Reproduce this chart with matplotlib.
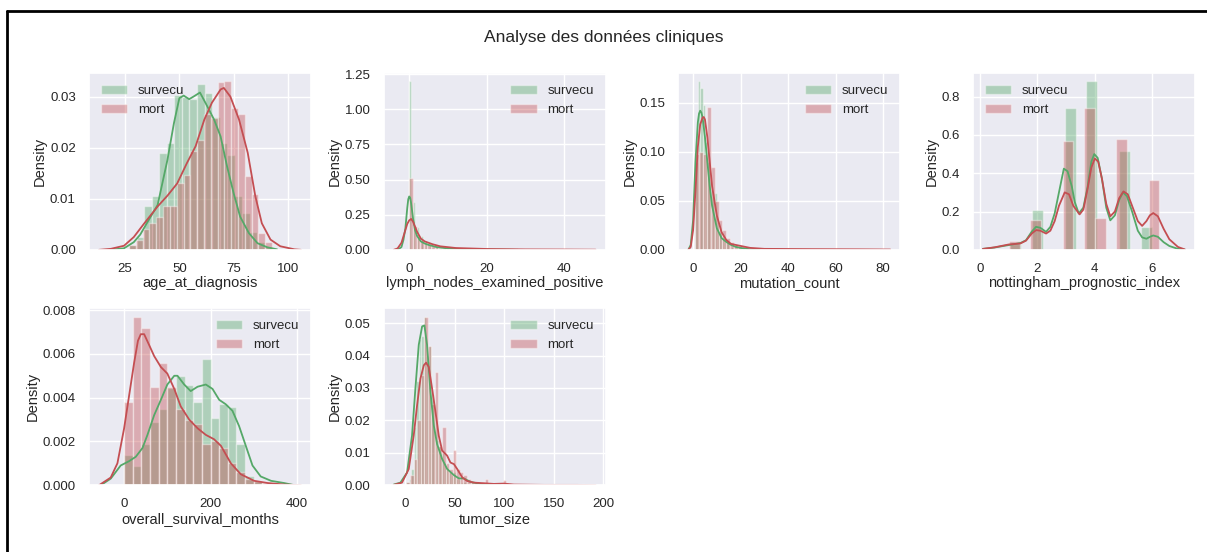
import numpy as np
import matplotlib
matplotlib.use("Agg")
import matplotlib.pyplot as plt
import seaborn as sns
from matplotlib.lines import Line2D

sns.set_theme(style="darkgrid")
plt.rcParams['font.family'] = ['Liberation Sans', 'DejaVu Sans']
plt.rcParams['xtick.labelsize'] = 9.5
plt.rcParams['ytick.labelsize'] = 9.5
plt.rcParams['axes.labelsize'] = 10.5
plt.rcParams['legend.fontsize'] = 9.5

GREEN = '#55A868'
RED = '#C44E52'

# ---- age_at_diagnosis ----
age_surv_bins = (26.9, 3.47)   # first edge, bin width
age_surv = [0.001, 0.0025, 0.0085, 0.0105, 0.019, 0.021, 0.0303, 0.030, 0.0295, 0.0324,
            0.0307, 0.026, 0.021, 0.0185, 0.0105, 0.0072, 0.0035, 0.0015, 0.0005]
age_mort_bins = (26.8, 3.14)
age_mort = [0.001, 0.002, 0.004, 0.0052, 0.0065, 0.0085, 0.0085, 0.013, 0.0147, 0.0193, 0.0216,
            0.0265, 0.0258, 0.0328, 0.033, 0.0278, 0.0265, 0.0144, 0.011, 0.0033, 0.0016]
age_surv_kde_x = [18, 24.5, 29, 32, 35, 40, 44.5, 47.5, 50, 52, 54.5, 56.5, 59.5, 62, 66, 69,
                  72, 75, 78, 82, 86, 90.5, 95]
age_surv_kde_y = [0, 0.0003, 0.0015, 0.003, 0.0052, 0.0088, 0.0176, 0.0248, 0.0297, 0.0302, 0.0295,
                  0.0300, 0.0308, 0.0288, 0.0255, 0.0222, 0.0163, 0.0111, 0.0065, 0.0033, 0.0013,
                  0.0005, 0.0001]
age_mort_kde_x = [13, 18.5, 24.5, 29, 33.5, 40, 44.5, 49, 53.5, 57.5, 61.5, 65, 69, 70.5, 73.5,
                  77.5, 81.5, 85, 88, 92, 96.5, 103, 106]
age_mort_kde_y = [0, 0.0002, 0.0008, 0.0025, 0.005, 0.0085, 0.0106, 0.013, 0.017, 0.0203, 0.0255,
                  0.0288, 0.0314, 0.0317, 0.030, 0.0255, 0.019, 0.0105, 0.0052, 0.002, 0.0007,
                  0.0001, 0]

# ---- lymph_nodes_examined_positive ----
lymph_surv_bins = (0, 0.5)
lymph_surv = [1.2, 0, 0.34, 0, 0.16, 0, 0.10, 0, 0.06, 0, 0.05, 0, 0.035, 0, 0.02, 0, 0.015, 0,
              0.01, 0, 0.008, 0, 0.005, 0, 0.004, 0, 0.003, 0, 0.002, 0, 0.002, 0, 0.001, 0, 0.001]
lymph_mort_bins = (0, 0.94)
lymph_mort = [0.51, 0.17, 0.10, 0.07, 0.05, 0.04, 0.03, 0.02, 0.015, 0.012, 0.01, 0.008, 0.006,
              0.005, 0.004, 0.003, 0.003, 0.002, 0.002, 0.002, 0.001, 0.001, 0.001, 0.001, 0.001,
              0.001, 0.0005, 0.0005, 0.0005, 0.0005, 0.0005, 0.0005, 0.0005, 0, 0, 0, 0, 0, 0, 0,
              0, 0, 0, 0, 0, 0, 0, 0, 0, 0.0005]
lymph_surv_kde_x = [-3, -2, -1.5, -1, -0.5, -0.25, 0, 0.25, 0.5, 1, 1.5, 2, 3, 4, 5, 7, 10, 15,
                    20, 25, 28]
lymph_surv_kde_y = [0, 0.02, 0.07, 0.15, 0.3, 0.36, 0.38, 0.37, 0.33, 0.22, 0.14, 0.1, 0.06, 0.045,
                    0.035, 0.02, 0.01, 0.004, 0.002, 0.001, 0]
lymph_mort_kde_x = [-4, -3, -2, -1, -0.5, 0, 0.5, 1, 1.5, 2, 3, 4, 6, 8, 12, 20, 30, 40, 48]
lymph_mort_kde_y = [0, 0.01, 0.05, 0.14, 0.185, 0.21, 0.22, 0.2, 0.165, 0.13, 0.08, 0.06, 0.04,
                    0.025, 0.013, 0.006, 0.003, 0.002, 0.001]

# ---- mutation_count ----
mut_surv_bins = (1, 1.0)
mut_surv = [0.09, 0.172, 0.165, 0.148, 0.11, 0.09, 0.07, 0.055, 0.058, 0.028, 0.018, 0.012, 0.008,
            0.007, 0.005, 0.003, 0.002, 0.002, 0.001, 0.001, 0.001]
mut_mort_bins = (1, 1.62)
mut_mort = [0.098, 0.10, 0.098, 0.146, 0.085, 0.05, 0.03, 0.02, 0.012, 0.008, 0.005, 0.004, 0.004,
            0.003, 0.001, 0.001, 0.001, 0.0005, 0.0005, 0.0005, 0, 0, 0, 0, 0, 0, 0.0005, 0, 0, 0,
            0, 0, 0, 0, 0, 0, 0, 0, 0, 0, 0, 0, 0, 0, 0, 0, 0, 0, 0, 0.0005]
mut_surv_kde_x = [-2, -1, 0, 1, 2, 2.5, 3, 3.5, 4, 5, 6, 7, 8, 10, 12, 14, 16, 18, 20, 24, 28]
mut_surv_kde_y = [0, 0.005, 0.03, 0.09, 0.13, 0.139, 0.142, 0.14, 0.135, 0.115, 0.09, 0.065, 0.045,
                  0.022, 0.012, 0.008, 0.005, 0.003, 0.002, 0.0005, 0]
mut_mort_kde_x = [-2, -1, 0, 1, 2, 3, 4, 4.5, 5, 6, 7, 8, 10, 12, 14, 16, 20, 24, 30, 50, 70, 83]
mut_mort_kde_y = [0, 0.003, 0.02, 0.06, 0.105, 0.128, 0.135, 0.1355, 0.133, 0.115, 0.09, 0.065,
                  0.035, 0.018, 0.01, 0.006, 0.004, 0.002, 0.001, 0.0007, 0.0005, 0.0003]

# ---- nottingham_prognostic_index ----
npi_surv_bins = (1.05, 0.38)
npi_surv = [0.03, 0, 0.21, 0, 0, 0.74, 0, 0.88, 0, 0, 0.515, 0, 0.12]
npi_mort_bins = (1.0, 0.375)
npi_mort = [0.045, 0, 0.157, 0, 0, 0.57, 0, 0.74, 0.165, 0, 0.58, 0, 0, 0.367]
npi_surv_kde_x = [0.1, 0.5, 1.0, 1.4, 1.6, 1.8, 1.95, 2.1, 2.3, 2.45, 2.6, 2.75, 2.92, 3.05, 3.2,
                  3.3, 3.44, 3.6, 3.75, 3.88, 3.98, 4.1, 4.25, 4.4, 4.54, 4.7, 4.85, 4.98, 5.12,
                  5.3, 5.5, 5.65, 5.8, 5.95, 6.04, 6.2, 6.4, 6.6, 6.9, 7.14]
npi_surv_kde_y = [0.005, 0.012, 0.025, 0.035, 0.05, 0.095, 0.12, 0.115, 0.094, 0.12, 0.19, 0.3,
                  0.424, 0.41, 0.33, 0.25, 0.19, 0.22, 0.33, 0.46, 0.5, 0.48, 0.37, 0.22, 0.154,
                  0.18, 0.26, 0.30, 0.28, 0.2, 0.1, 0.065, 0.058, 0.07, 0.075, 0.068, 0.04, 0.02,
                  0.005, 0.001]
npi_mort_kde_x = [0.1, 0.5, 1.0, 1.4, 1.6, 1.8, 1.95, 2.1, 2.3, 2.45, 2.6, 2.75, 2.95, 3.1, 3.25,
                  3.47, 3.6, 3.75, 3.88, 4.0, 4.12, 4.25, 4.4, 4.54, 4.7, 4.85, 5.0, 5.15, 5.3,
                  5.5, 5.65, 5.8, 5.92, 6.04, 6.2, 6.4, 6.6, 6.9, 7.14]
npi_mort_kde_y = [0.005, 0.013, 0.028, 0.033, 0.048, 0.085, 0.103, 0.1, 0.085, 0.1, 0.15, 0.23,
                  0.30, 0.29, 0.23, 0.185, 0.21, 0.32, 0.43, 0.477, 0.46, 0.37, 0.24, 0.175, 0.2,
                  0.27, 0.305, 0.29, 0.23, 0.15, 0.125, 0.15, 0.18, 0.192, 0.175, 0.11, 0.055,
                  0.015, 0.002]

# ---- overall_survival_months ----
osm_surv_bins = (0, 20)
osm_surv = [0.00139, 0.00089, 0.0019, 0.0029, 0.0035, 0.00445, 0.005, 0.00456, 0.0038, 0.00578,
            0.00305, 0.0037, 0.00356, 0.0019, 0.0004, 0.0002]
osm_mort_bins = (0, 20)
osm_mort = [0.0038, 0.0077, 0.0072, 0.0045, 0.0056, 0.0045, 0.0035, 0.003, 0.0028, 0.0019, 0.002,
            0.0017, 0.001, 0.0006, 0.0003, 0.0002, 0.0001, 0.0001]
osm_surv_kde_x = [-54, -31, -8, 11.6, 27, 42.5, 54, 69.5, 85, 100, 116, 123.5, 139, 154, 170, 189,
                  204.5, 220, 235, 250.6, 266, 281.5, 297, 316, 340, 370, 394]
osm_surv_kde_y = [0, 0.0003, 0.0009, 0.0011, 0.0013, 0.0017, 0.0023, 0.0032, 0.0039, 0.0046, 0.005,
                  0.005, 0.0046, 0.0043, 0.0045, 0.0046, 0.0044, 0.0039, 0.0037, 0.0034, 0.0027,
                  0.0018, 0.0009, 0.0004, 0.0002, 0.0001, 0]
osm_mort_kde_x = [-58, -31, -15.5, 0, 11.6, 23.2, 32, 38.6, 46.3, 58, 69.5, 85, 100, 116, 131,
                  150.5, 170, 189, 208, 224, 247, 270, 301, 332, 370, 409]
osm_mort_kde_y = [0, 0.00035, 0.001, 0.0026, 0.0041, 0.0056, 0.0066, 0.0069, 0.0069, 0.0064,
                  0.0059, 0.0054, 0.0051, 0.0044, 0.0036, 0.003, 0.0026, 0.0023, 0.0021, 0.0018,
                  0.001, 0.0005, 0.0002, 0.0001, 0.00003, 0]

# ---- tumor_size ----
tumor_surv_bins = (1, 2.5)
tumor_surv = [0.001, 0.002, 0.005, 0.018, 0.032, 0.045, 0.046, 0.052, 0.04, 0.043, 0.028, 0.025,
              0.014, 0.012, 0.01, 0.007, 0.005, 0.004, 0.003, 0.004, 0.002, 0.002, 0.001, 0.001,
              0.001, 0, 0.001, 0, 0.0005, 0, 0.0005]
tumor_mort_bins = (1, 3.6)
tumor_mort = [0.001, 0.003, 0.008, 0.02, 0.034, 0.052, 0.043, 0.025, 0.035, 0.012, 0.018, 0.007,
              0.005, 0.011, 0.005, 0.004, 0.003, 0.002, 0.001, 0.001, 0.0005, 0.001, 0.002, 0.0003,
              0, 0, 0, 0.0015, 0, 0, 0, 0, 0, 0, 0, 0, 0, 0, 0, 0, 0, 0, 0, 0, 0, 0, 0, 0, 0, 0.0003]
tumor_surv_kde_x = [-11.8, -5, 1.7, 6.7, 10.1, 13.5, 16.9, 19.2, 21.9, 25.3, 28.7, 32, 37.1, 42.2,
                    49, 54, 59, 65.8, 76, 86, 96]
tumor_surv_kde_y = [0.0002, 0.0008, 0.0039, 0.0153, 0.0298, 0.0433, 0.049, 0.0493, 0.0433, 0.0288,
                    0.0184, 0.0127, 0.0081, 0.005, 0.0031, 0.0021, 0.0021, 0.001, 0.0004, 0.0001, 0]
tumor_mort_kde_x = [-11.8, -3.4, 3.4, 8.4, 11.8, 15.2, 18.6, 20.9, 23.6, 27, 30.4, 33.7, 37.1, 42.2,
                    45.5, 49, 52.3, 57.4, 62.4, 69.2, 79.3, 89.4, 99.5, 109.6, 140, 173.8, 192]
tumor_mort_kde_y = [0.0001, 0.0008, 0.005, 0.0153, 0.0246, 0.0329, 0.037, 0.0378, 0.0365, 0.0298,
                    0.0226, 0.0153, 0.0107, 0.0091, 0.007, 0.0065, 0.005, 0.0024, 0.0013, 0.0008,
                    0.0006, 0.0004, 0.0005, 0.0002, 0.0001, 0.0001, 0]

panels = [
    ('age_at_diagnosis', age_surv_bins, age_surv, age_mort_bins, age_mort,
     (age_surv_kde_x, age_surv_kde_y), (age_mort_kde_x, age_mort_kde_y),
     'upper left', [25, 50, 75, 100], [0, 0.01, 0.02, 0.03], '{:.2f}'),
    ('lymph_nodes_examined_positive', lymph_surv_bins, lymph_surv, lymph_mort_bins, lymph_mort,
     (lymph_surv_kde_x, lymph_surv_kde_y), (lymph_mort_kde_x, lymph_mort_kde_y),
     'upper right', [0, 20, 40], [0, 0.25, 0.5, 0.75, 1.0, 1.25], '{:.2f}'),
    ('mutation_count', mut_surv_bins, mut_surv, mut_mort_bins, mut_mort,
     (mut_surv_kde_x, mut_surv_kde_y), (mut_mort_kde_x, mut_mort_kde_y),
     'upper right', [0, 20, 40, 60, 80], [0, 0.05, 0.1, 0.15], '{:.2f}'),
    ('nottingham_prognostic_index', npi_surv_bins, npi_surv, npi_mort_bins, npi_mort,
     (npi_surv_kde_x, npi_surv_kde_y), (npi_mort_kde_x, npi_mort_kde_y),
     'upper left', [0, 2, 4, 6], [0, 0.2, 0.4, 0.6, 0.8], '{:.1f}'),
    ('overall_survival_months', osm_surv_bins, osm_surv, osm_mort_bins, osm_mort,
     (osm_surv_kde_x, osm_surv_kde_y), (osm_mort_kde_x, osm_mort_kde_y),
     'upper right', [0, 200, 400], [0, 0.002, 0.004, 0.006, 0.008], '{:.3f}'),
    ('tumor_size', tumor_surv_bins, tumor_surv, tumor_mort_bins, tumor_mort,
     (tumor_surv_kde_x, tumor_surv_kde_y), (tumor_mort_kde_x, tumor_mort_kde_y),
     'upper right', [0, 50, 100, 150, 200], [0, 0.01, 0.02, 0.03, 0.04, 0.05], '{:.2f}'),
]

fig = plt.figure(figsize=(12.07, 5.52), dpi=100)
fig.subplots_adjust(left=0.0737, right=0.990, top=0.868, bottom=0.121, wspace=0.327, hspace=0.33)

for i, (name, sb, sh, mb, mh, skde, mkde, loc, xt, yt, fmt) in enumerate(panels):
    ax = fig.add_subplot(2, 4, i + 1)
    # survivors: histogram then kde
    ax.bar(sb[0] + sb[1] * np.arange(len(sh)), sh, width=sb[1], align='edge',
           color=GREEN, alpha=0.4, label='survecu')
    ax.plot(skde[0], skde[1], color=GREEN, lw=1.3)
    # deceased
    ax.bar(mb[0] + mb[1] * np.arange(len(mh)), mh, width=mb[1], align='edge',
           color=RED, alpha=0.4, label='mort')
    ax.plot(mkde[0], mkde[1], color=RED, lw=1.3)
    ax.set_xticks(xt)
    ax.set_yticks(yt)
    ax.set_yticklabels([fmt.format(v) for v in yt])
    ax.set_xlabel(name, labelpad=1)
    ax.set_ylabel('Density', labelpad=2)
    ax.legend(loc=loc, frameon=False)

fig.suptitle('Analyse des données cliniques', fontsize=12.5, y=0.945)

# black frame of the screenshot (top and left only)
fig.add_artist(Line2D([0.006, 1.0], [0.980, 0.980], transform=fig.transFigure, color='black', lw=2))
fig.add_artist(Line2D([0.006, 0.006], [0.0, 0.980], transform=fig.transFigure, color='black', lw=2))

fig.savefig('out.png', dpi=100)
